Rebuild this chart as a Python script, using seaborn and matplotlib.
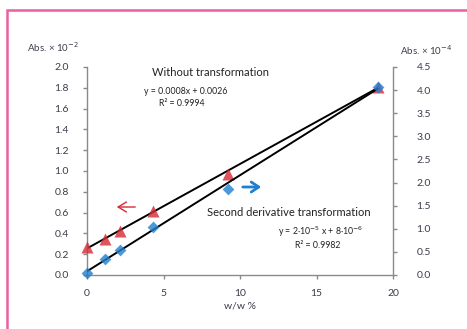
import matplotlib
matplotlib.use("Agg")
import matplotlib.pyplot as plt
import seaborn as sns
import pandas as pd
from matplotlib.patches import Rectangle

# ---- data ----
conc = [0.0, 1.15, 2.15, 4.3, 9.2, 19.0]                 # w/w %
abs_direct = [0.265, 0.35, 0.425, 0.615, 0.975, 1.81]     # Abs x 10^-2 (left axis)
abs_deriv = [0.05, 0.35, 0.54, 1.04, 1.87, 4.07]          # Abs x 10^-4 (right axis)
left_ticks = [0.0, 0.2, 0.4, 0.6, 0.8, 1.0, 1.2, 1.4, 1.6, 1.8, 2.0]
right_ticks = [0.0, 0.5, 1.0, 1.5, 2.0, 2.5, 3.0, 3.5, 4.0, 4.5]
x_ticks = [0, 5, 10, 15, 20]

df = pd.DataFrame({"conc": conc, "direct": abs_direct, "deriv": abs_deriv})

sns.set_theme(style="white")
plt.rcParams["font.family"] = ["Lato", "DejaVu Sans"]

W, H = 467, 329
fig = plt.figure(figsize=(W / 100, H / 100), dpi=100)

def fx(px):
    return px / W

def fy(py):
    return 1 - py / H

ax = fig.add_axes([fx(87), fy(275), fx(393) - fx(87), fy(67) - fy(275)])

red = "#d42a36"
blue = "#1f7fd0"
grey = "#8a8a8a"
tick_col = "#3c3c4c"

sns.regplot(data=df, x="conc", y="direct", ax=ax, ci=None, marker="^",
            scatter_kws=dict(s=75, color=red, clip_on=False, zorder=3, linewidths=0),
            line_kws=dict(color="black", lw=1.4, zorder=2))
ax.set_xlim(0, 20)
ax.set_ylim(0, 2.0)
ax.set_xticks(x_ticks)
ax.set_xticklabels([str(t) for t in x_ticks])
ax.set_yticks(left_ticks)
ax.set_yticklabels([f"{t:.1f}" for t in left_ticks])
ax.set_xlabel("")
ax.set_ylabel("")

ax2 = ax.twinx()
sns.regplot(data=df, x="conc", y="deriv", ax=ax2, ci=None, marker="D",
            scatter_kws=dict(s=36, color=blue, clip_on=False, zorder=3, linewidths=0),
            line_kws=dict(color="black", lw=1.4, zorder=2))
ax2.set_ylim(0, 4.5)
ax2.set_xlim(0, 20)
ax2.set_yticks(right_ticks)
ax2.set_yticklabels([f"{t:.1f}" for t in right_ticks])
ax2.set_ylabel("")
ax2.set_xlabel("")

for a in (ax, ax2):
    for s in a.spines.values():
        s.set_color(grey)
        s.set_linewidth(1.0)
    a.spines["top"].set_visible(False)
ax.spines["right"].set_visible(False)
ax2.spines["left"].set_visible(False)
ax2.spines["bottom"].set_visible(False)

ax.tick_params(axis="y", direction="out", length=3, width=1, color=grey,
               labelsize=7.5, labelcolor=tick_col, pad=10, left=True)
ax.tick_params(axis="x", direction="out", length=3, width=1, color=grey,
               labelsize=7.5, labelcolor=tick_col, pad=7, bottom=True)
ax2.tick_params(axis="y", direction="out", length=3, width=1, color=grey,
                labelsize=7.5, labelcolor=tick_col, pad=14, right=True)

# axis titles
fig.text(fx(27), fy(47), "Abs. × 10$^{-2}$", fontsize=7, color=tick_col, va="center", ha="left")
fig.text(fx(400), fy(50), "Abs. × 10$^{-4}$", fontsize=7, color=tick_col, va="center", ha="left")
fig.text(fx(240), fy(306), "w/w %", fontsize=7.5, color=tick_col, va="center", ha="center")

# annotations
fig.text(fx(152), fy(72), "Without transformation", fontsize=8, color="#222222", va="center", ha="left")
fig.text(fx(186), fy(91), "y = 0.0008x + 0.0026", fontsize=6.3, color="#222222", va="center", ha="center")
fig.text(fx(182), fy(103), "R² = 0.9994", fontsize=6.3, color="#222222", va="center", ha="center")
fig.text(fx(207), fy(212), "Second derivative transformation", fontsize=8, color="#222222", va="center", ha="left")
fig.text(fx(321), fy(232), "y = 2·10$^{-5}$ x + 8·10$^{-6}$", fontsize=6.3, color="#222222", va="center", ha="center")
fig.text(fx(318), fy(245), "R² = 0.9982", fontsize=6.3, color="#222222", va="center", ha="center")

# direction arrows
ax.annotate("", xy=(fx(114), fy(207)), xytext=(fx(138), fy(207)), xycoords="figure fraction",
            textcoords="figure fraction",
            arrowprops=dict(arrowstyle="->,head_length=0.5,head_width=0.3", color=red, lw=1.0))
ax.annotate("", xy=(fx(264), fy(187)), xytext=(fx(240), fy(187)), xycoords="figure fraction",
            textcoords="figure fraction",
            arrowprops=dict(arrowstyle="->,head_length=0.45,head_width=0.3", color=blue, lw=2.0))

# pink frame
fig.patches.append(Rectangle((fx(7), fy(360)), fx(520), fy(10) - fy(360), transform=fig.transFigure,
                             fill=False, edgecolor="#e8609f", lw=1.8, zorder=0))

fig.savefig("out.png", dpi=100)
